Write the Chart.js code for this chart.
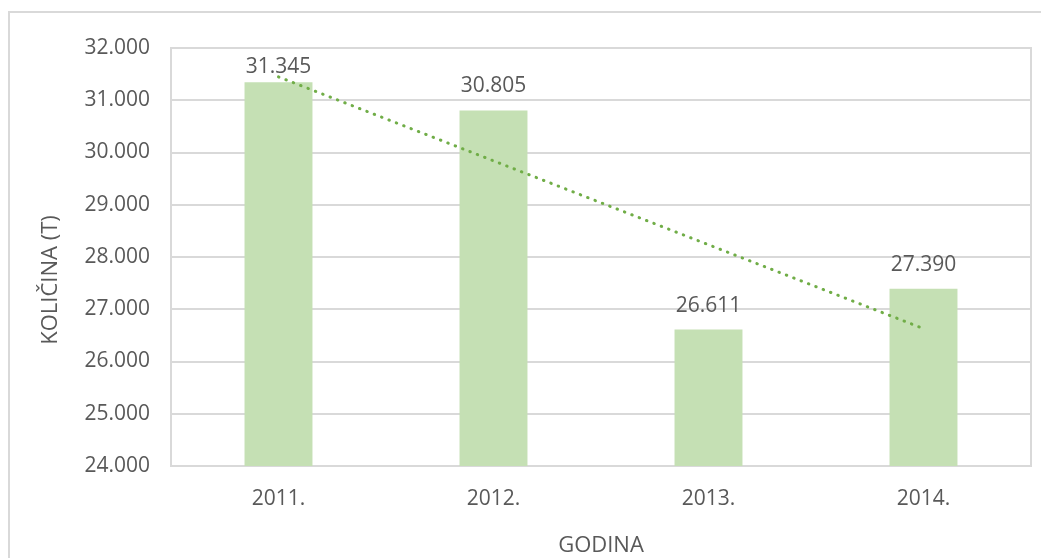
<!DOCTYPE html>
<html>
<head>
<meta charset="utf-8">
<script src="https://cdn.jsdelivr.net/npm/chart.js@4.4.1/dist/chart.umd.min.js"></script>
<style>
  html, body { margin: 0; padding: 0; background: #fff; }
  canvas { display: block; }
</style>
</head>
<body>
<canvas id="kolicinaChart" width="1041" height="558"></canvas>
<script>
/* ========== Data ========== */
const godine = ["2011.", "2012.", "2013.", "2014."];
const kolicine = [31345, 30805, 26611, 27390];
// linear trend line
const trend = [31447, 29841, 28235, 26629];
const yMin = 24000;
const yMax = 32000;
const yStep = 1000;

const TEXT = "#595959";
const GRID = "#D9D9D9";
const FONT = "'Open Sans', sans-serif";

function formatBroj(v) {
  return String(v).replace(/\B(?=(\d{3})+(?!\d))/g, ".");
}

/* ========== Frame, value labels, y title ========== */
const okvirPlugin = {
  id: "okvir",
  beforeDraw(chart) {
    const ctx = chart.ctx;
    ctx.save();
    ctx.fillStyle = "#fff";
    ctx.fillRect(0, 0, chart.width, chart.height);
    ctx.strokeStyle = GRID;
    ctx.lineWidth = 2;
    ctx.strokeRect(9, 12, chart.width + 20, chart.height + 20);
    ctx.restore();
  },
  beforeDatasetsDraw(chart) {
    // plot area border
    const { ctx, chartArea: a } = chart;
    ctx.save();
    ctx.strokeStyle = GRID;
    ctx.lineWidth = 2;
    ctx.strokeRect(a.left, a.top, a.right - a.left, a.bottom - a.top);
    ctx.restore();
  },
  afterDatasetsDraw(chart) {
    const { ctx, chartArea: a } = chart;
    const meta = chart.getDatasetMeta(1); // bar dataset
    ctx.save();
    ctx.font = "21px " + FONT;
    ctx.fillStyle = TEXT;
    ctx.textAlign = "center";
    ctx.textBaseline = "alphabetic";
    meta.data.forEach((bar, i) => {
      const y = Math.max(bar.y - 18, a.top + 25);
      ctx.fillText(formatBroj(kolicine[i]), bar.x, y);
    });
    ctx.restore();
  },
  afterDraw(chart) {
    const ctx = chart.ctx;
    ctx.save();
    ctx.translate(51, 280);
    ctx.rotate(-Math.PI / 2);
    ctx.font = "22px " + FONT;
    ctx.fillStyle = TEXT;
    ctx.textAlign = "center";
    ctx.textBaseline = "middle";
    ctx.fillText("KOLIČINA (T)", 0, 0);
    ctx.restore();
  }
};

/* ========== Chart ========== */
const ctx = document.getElementById("kolicinaChart").getContext("2d");
new Chart(ctx, {
  type: "bar",
  data: {
    labels: godine,
    datasets: [
      {
        type: "line",
        label: "Trend",
        data: trend,
        borderColor: "#70AD47",
        borderWidth: 3,
        borderDash: [0.5, 7.4],
        borderCapStyle: "round",
        pointRadius: 0,
        fill: false,
        order: 0
      },
      {
        label: "Količina",
        data: kolicine,
        backgroundColor: "#C5E0B4",
        barPercentage: 0.316,
        categoryPercentage: 1,
        order: 1
      }
    ]
  },
  options: {
    responsive: false,
    animation: false,
    layout: { padding: { top: 48, right: 10, left: 0, bottom: 0 } },
    plugins: {
      legend: { display: false },
      tooltip: { enabled: false }
    },
    scales: {
      x: {
        grid: { display: false, drawTicks: false },
        border: { display: false },
        ticks: { color: TEXT, font: { family: FONT, size: 21 }, padding: 20 },
        title: {
          display: true,
          text: "GODINA",
          color: TEXT,
          font: { family: FONT, size: 22, lineHeight: 1 },
          padding: { top: 0, bottom: 1 }
        },
        afterFit(s) { s.height = 92; }
      },
      y: {
        min: yMin,
        max: yMax,
        grid: { color: GRID, lineWidth: 2, drawTicks: false },
        border: { display: false },
        ticks: {
          stepSize: yStep,
          color: TEXT,
          font: { family: FONT, size: 21 },
          padding: 21,
          callback: v => formatBroj(v)
        },
        afterFit(s) { s.width = 171; }
      }
    }
  },
  plugins: [okvirPlugin]
});
</script>
</body>
</html>
